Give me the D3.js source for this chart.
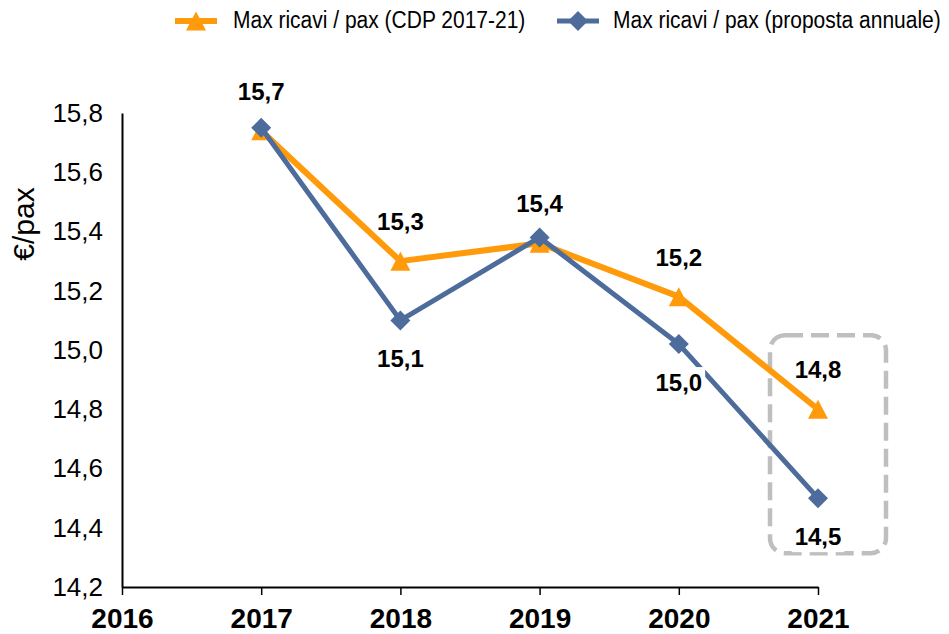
<!DOCTYPE html>
<html>
<head>
<meta charset="utf-8">
<script src="https://cdn.jsdelivr.net/npm/d3@7"></script>
<style>
    body { margin: 0; background: #fff; }
    svg { display: block; font-family: "Liberation Sans", Arial, sans-serif; }
</style>
</head>
<body>
<div id="chart"></div>
<script>
// Data
const years = [2017, 2018, 2019, 2020, 2021];
const cdpValues = [15.74, 15.30, 15.36, 15.18, 14.80];
const annualValues = [15.75, 15.10, 15.38, 15.02, 14.50];
const annualLabelShown = [false, true, false, true, true];
const xTicks = [2016, 2017, 2018, 2019, 2020, 2021];
const yTicks = [14.2, 14.4, 14.6, 14.8, 15.0, 15.2, 15.4, 15.6, 15.8];
const seriesNames = ['Max ricavi / pax (CDP 2017-21)', 'Max ricavi / pax (proposta annuale)'];

const config = {
    width: 949,
    height: 634,
    left: 122,
    right: 818,
    top: 113,
    bottom: 587,
    orange: '#FF9A0A',
    blue: '#4D6C9C'
};

const it = d3.formatLocale({ decimal: ',', thousands: '.', grouping: [3], currency: ['€', ''] });
const fmt = it.format('.1f');

const svg = d3.select('#chart')
    .append('svg')
    .attr('width', config.width)
    .attr('height', config.height);

const x = d3.scaleLinear().domain([2016, 2021]).range([config.left, config.right]);
const y = d3.scaleLinear().domain([14.2, 15.8]).range([config.bottom, config.top]);

// Axes
const yAxis = svg.append('g')
    .attr('transform', `translate(${config.left},0)`)
    .call(d3.axisLeft(y).tickValues(yTicks).tickFormat(fmt).tickSize(0).tickPadding(19));
yAxis.select('.domain').attr('stroke', '#000').attr('stroke-width', 2);
yAxis.selectAll('text')
    .attr('font-size', 26)
    .attr('font-family', '"Liberation Sans", Arial, sans-serif')
    .attr('fill', '#000');

const xAxis = svg.append('g')
    .attr('transform', `translate(0,${config.bottom})`)
    .call(d3.axisBottom(x).tickValues(xTicks).tickFormat(d3.format('d')).tickSize(8).tickSizeOuter(0));
xAxis.select('.domain').attr('stroke', '#000').attr('stroke-width', 2);
xAxis.selectAll('.tick line').attr('stroke', '#000').attr('stroke-width', 1.5);
xAxis.selectAll('text')
    .attr('dy', null)
    .attr('y', 41)
    .attr('font-size', 28)
    .attr('font-weight', 'bold')
    .attr('font-family', '"Liberation Sans", Arial, sans-serif')
    .attr('fill', '#000');

// Y title
svg.append('text')
    .attr('transform', 'translate(34,224) rotate(-90)')
    .attr('text-anchor', 'middle')
    .attr('font-size', 30)
    .text('€/pax');

// Highlight box around 2021
const boxX = x(2021) - 48;
const boxTop = y(cdpValues[4]) - 74;
const boxBottom = y(annualValues[4]) + 55;
svg.append('rect')
    .attr('x', boxX)
    .attr('y', boxTop)
    .attr('width', 116)
    .attr('height', boxBottom - boxTop)
    .attr('rx', 15)
    .attr('fill', 'none')
    .attr('stroke', '#BFBFBF')
    .attr('stroke-width', 4.5)
    .attr('stroke-dasharray', '18,8');

const triangle = 'M0,-9.5L10,9.5L-10,9.5Z';
const diamond = 'M0,-10L10,0L0,10L-10,0Z';

const line = d3.line()
    .x((d, i) => x(years[i]))
    .y(d => y(d));

// Series CDP (orange)
svg.append('path')
    .datum(cdpValues)
    .attr('d', line)
    .attr('fill', 'none')
    .attr('stroke', config.orange)
    .attr('stroke-width', 6)
    .attr('stroke-linejoin', 'round');
svg.append('g').selectAll('path')
    .data(cdpValues)
    .join('path')
    .attr('d', triangle)
    .attr('transform', (d, i) => `translate(${x(years[i])},${y(d)})`)
    .attr('fill', config.orange);

// Series proposta annuale (blue)
svg.append('path')
    .datum(annualValues)
    .attr('d', line)
    .attr('fill', 'none')
    .attr('stroke', config.blue)
    .attr('stroke-width', 5)
    .attr('stroke-linejoin', 'round');
svg.append('g').selectAll('path')
    .data(annualValues)
    .join('path')
    .attr('d', diamond)
    .attr('transform', (d, i) => `translate(${x(years[i])},${y(d)})`)
    .attr('fill', config.blue);

// Data labels
const labels = svg.append('g')
    .attr('font-size', 24)
    .attr('font-weight', 'bold')
    .attr('text-anchor', 'middle');

labels.selectAll('.lab-cdp')
    .data(cdpValues)
    .join('text')
    .attr('class', 'lab-cdp')
    .attr('x', (d, i) => x(years[i]))
    .attr('y', d => y(d) - 31)
    .text(d => fmt(d));

annualValues.forEach((d, i) => {
    if (!annualLabelShown[i]) return;
    const g = labels.append('g');
    const t = g.append('text')
        .attr('x', x(years[i]))
        .attr('y', y(d) + 47)
        .text(fmt(d));
    const bb = t.node().getBBox();
    g.insert('rect', 'text')
        .attr('x', bb.x - 3)
        .attr('y', bb.y - 2)
        .attr('width', bb.width + 6)
        .attr('height', bb.height + 4)
        .attr('fill', '#fff');
});

// Legend (narrow text: smaller font stretched vertically)
const legend = svg.append('g');
const legendItems = [
    { x: 175, color: config.orange, shape: triangle, textX: 233 },
    { x: 557, color: config.blue, shape: diamond, textX: 613 }
];
legendItems.forEach((item, i) => {
    legend.append('line')
        .attr('x1', item.x).attr('x2', item.x + 42)
        .attr('y1', 21).attr('y2', 21)
        .attr('stroke', item.color)
        .attr('stroke-width', i === 0 ? 6 : 5);
    legend.append('path')
        .attr('d', item.shape)
        .attr('transform', `translate(${item.x + 21},21)`)
        .attr('fill', item.color);
    legend.append('text')
        .attr('transform', `translate(${item.textX},28) scale(1,1.14)`)
        .attr('font-size', 21)
        .text(seriesNames[i]);
});
</script>
</body>
</html>
